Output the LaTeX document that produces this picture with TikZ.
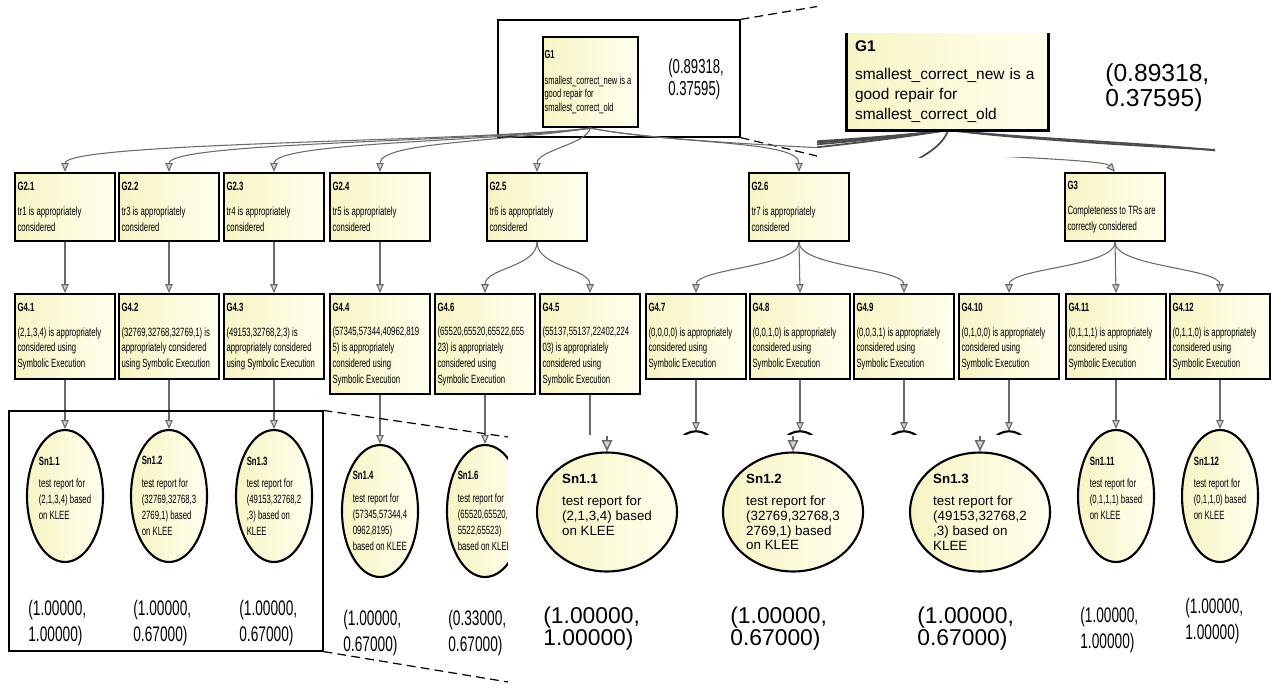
\documentclass[tikz,border=0pt]{standalone}
\usepackage{fontspec}
\setmainfont{Liberation Sans}
\newfontfamily\narrowsf[FakeStretch=0.65]{Liberation Sans}
\usetikzlibrary{arrows.meta, shapes.geometric}
\definecolor{gsnyellow}{RGB}{247,245,196}
\definecolor{gsnlight}{RGB}{255,255,238}
\definecolor{linkgray}{RGB}{105,105,105}
\newcommand{\gsnfont}{\narrowsf\fontsize{6.8}{9}\selectfont}
\newcommand{\gonefont}{\narrowsf\fontsize{6.6}{7.7}\selectfont}
\newcommand{\valfont}{\narrowsf\fontsize{12}{15.3}\selectfont}
\newcommand{\narrowspace}{\spaceskip=1.25pt plus 0.4pt minus 0.2pt\relax}

\begin{document}
\begin{tikzpicture}[x=0.02cm, y=-0.02cm,
  goal/.style={draw=black, line width=1.3pt, left color=gsnyellow, right color=gsnlight,
    text width=1.9cm, inner xsep=0.05cm, inner ysep=0pt, align=left, font=\gsnfont,
    execute at begin node=\narrowspace},
  sol/.style={ellipse, draw=black, line width=1.2pt, left color=gsnyellow, right color=gsnlight,
    minimum width=1.52cm, minimum height=2.64cm, inner xsep=-3pt, inner ysep=0pt, align=left, font=\gsnfont,
    execute at begin node=\narrowspace},
  solbig/.style={ellipse, draw=black, line width=1.2pt, left color=gsnyellow, right color=gsnlight,
    minimum width=2.8cm, minimum height=2.38cm, inner sep=0pt, align=left,
    font=\fontsize{7.6}{8.5}\selectfont},
  link/.style={draw=linkgray, line width=0.6pt, -{Triangle[length=5pt, width=4.2pt, fill=gray!35]}},
  plain/.style={draw=linkgray, line width=0.6pt},
  val/.style={anchor=west, inner sep=0pt, align=left, font=\valfont},
  valbig/.style={anchor=west, inner sep=0pt, align=left, font=\fontsize{13}{13}\selectfont},
  zoomframe/.style={draw=black, line width=0.7pt, inner sep=0pt},
  zoomline/.style={draw=black, line width=0.7pt, dash pattern=on 5pt off 3pt}]
  \useasboundingbox (0,0) rectangle (1273,687);

  % zoom frame round G1
  \node[zoomframe, minimum width=4.84cm, minimum height=2.34cm] (frameA) at (619,78.5) {};
  \coordinate (zA1) at (820,6);
  \coordinate (zA2) at (817,156);
  \draw[zoomline] (frameA.north east) -- (zA1);
  \draw[zoomline] (frameA.south east) -- (zA2);

  % top goal
  \node[goal, minimum height=1.8cm, text width=1.84cm, inner xsep=0.03cm, font=\gonefont] (g1) at (590.5,82)
    {\textbf{G1}\\[7pt]smallest\_correct\_new is a\\good repair for\\smallest\_correct\_old};
  \node[val, font=\narrowsf\fontsize{11.5}{12.5}\selectfont] (v1) at (668,79) {(0.89318,\\0.37595)};

  % G2 / G3 row
  \node[goal, minimum height=1.36cm] (g21) at (65,207) {\textbf{G2.1}\\[5pt]tr1 is appropriately\\considered};
  \node[goal, minimum height=1.36cm] (g22) at (169,207) {\textbf{G2.2}\\[5pt]tr3 is appropriately\\considered};
  \node[goal, minimum height=1.36cm] (g23) at (274,207) {\textbf{G2.3}\\[5pt]tr4 is appropriately\\considered};
  \node[goal, minimum height=1.36cm] (g24) at (380,207) {\textbf{G2.4}\\[5pt]tr5 is appropriately\\considered};
  \node[goal, minimum height=1.36cm] (g25) at (537,207) {\textbf{G2.5}\\[5pt]tr6 is appropriately\\considered};
  \node[goal, minimum height=1.36cm] (g26) at (799,207) {\textbf{G2.6}\\[5pt]tr7 is appropriately\\considered};
  \node[goal, minimum height=1.36cm] (g3) at (1115,207) {\textbf{G3}\\[5pt]Completeness to TRs are\\correctly considered};

  % G4 row
  \node[goal, anchor=north, minimum height=1.7cm] (g41) at (65,293)
    {\textbf{G4.1}\\[5pt](2,1,3,4) is appropriately\\considered using\\Symbolic Execution};
  \node[goal, anchor=north, minimum height=1.7cm] (g42) at (169,293)
    {\textbf{G4.2}\\[5pt](32769,32768,32769,1) is\\appropriately considered\\using Symbolic Execution};
  \node[goal, anchor=north, minimum height=1.7cm] (g43) at (274,293)
    {\textbf{G4.3}\\[5pt](49153,32768,2,3) is\\appropriately considered\\using Symbolic Execution};
  \node[goal, anchor=north, minimum height=2cm] (g44) at (380,293)
    {\textbf{G4.4}\\[5pt](57345,57344,40962,819\\5) is appropriately\\considered using\\Symbolic Execution};
  \node[goal, anchor=north, minimum height=2cm] (g46) at (485,293)
    {\textbf{G4.6}\\[5pt](65520,65520,65522,655\\23) is appropriately\\considered using\\Symbolic Execution};
  \node[goal, anchor=north, minimum height=2cm] (g45) at (590,293)
    {\textbf{G4.5}\\[5pt](55137,55137,22402,224\\03) is appropriately\\considered using\\Symbolic Execution};
  \node[goal, anchor=north, minimum height=1.7cm] (g47) at (696,293)
    {\textbf{G4.7}\\[5pt](0,0,0,0) is appropriately\\considered using\\Symbolic Execution};
  \node[goal, anchor=north, minimum height=1.7cm] (g48) at (800,293)
    {\textbf{G4.8}\\[5pt](0,0,1,0) is appropriately\\considered using\\Symbolic Execution};
  \node[goal, anchor=north, minimum height=1.7cm] (g49) at (904,293)
    {\textbf{G4.9}\\[5pt](0,0,3,1) is appropriately\\considered using\\Symbolic Execution};
  \node[goal, anchor=north, minimum height=1.7cm] (g410) at (1009,293)
    {\textbf{G4.10}\\[5pt](0,1,0,0) is appropriately\\considered using\\Symbolic Execution};
  \node[goal, anchor=north, minimum height=1.7cm] (g411) at (1116,293)
    {\textbf{G4.11}\\[5pt](0,1,1,1) is appropriately\\considered using\\Symbolic Execution};
  \node[goal, anchor=north, minimum height=1.7cm] (g412) at (1220,293)
    {\textbf{G4.12}\\[5pt](0,1,1,0) is appropriately\\considered using\\Symbolic Execution};

  % solutions
  \node[sol] (sn11) at (65,496) {\textbf{Sn1.1}\\[4pt]test report for\\(2,1,3,4) based\\on KLEE\\~};
  \node[sol] (sn12) at (169,496) {\textbf{Sn1.2}\\[4pt]test report for\\(32769,32768,3\\2769,1) based\\on KLEE};
  \node[sol] (sn13) at (274,496) {\textbf{Sn1.3}\\[4pt]test report for\\(49153,32768,2\\,3) based on\\KLEE};
  \node[sol] (sn14) at (380,511) {\textbf{Sn1.4}\\[4pt]test report for\\(57345,57344,4\\0962,8195)\\based on KLEE};
  \node[sol] (sn16) at (485,511) {\textbf{Sn1.6}\\[4pt]test report for\\(65520,65520,6\\5522,65523)\\based on KLEE};
  \node[sol] (sn111) at (1116,496) {\textbf{Sn1.11}\\[4pt]test report for\\(0,1,1,1) based\\on KLEE\\~};
  \node[sol] (sn112) at (1220,496) {\textbf{Sn1.12}\\[4pt]test report for\\(0,1,1,0) based\\on KLEE\\~};

  % values
  \node[val] (v11) at (28,623) {(1.00000,\\1.00000)};
  \node[val] (v12) at (133,623) {(1.00000,\\0.67000)};
  \node[val] (v13) at (239,623) {(1.00000,\\0.67000)};
  \node[val] (v14) at (343,633) {(1.00000,\\0.67000)};
  \node[val] (v16) at (448,633) {(0.33000,\\0.67000)};
  \node[val] (v111) at (1080,630) {(1.00000,\\1.00000)};
  \node[val] (v112) at (1185,621) {(1.00000,\\1.00000)};

  % G1 to G2 / G3
  \draw[link] (g1.south) .. controls (470,142) and (65,142) .. (g21.north);
  \draw[link] (g1.south) .. controls (480,142) and (169,142) .. (g22.north);
  \draw[link] (g1.south) .. controls (490,142) and (274,142) .. (g23.north);
  \draw[link] (g1.south) .. controls (500,142) and (380,142) .. (g24.north);
  \draw[link] (g1.south) .. controls (585,145) and (537,150) .. (g25.north);
  \draw[link] (g1.south) .. controls (680,145) and (799,140) .. (g26.north);
  \draw[link] (g1.south) .. controls (700,150) and (1100,155) .. (g3.north);

  % G2 / G3 to G4
  \draw[link] (g21.south) -- (g41.north);
  \draw[link] (g22.south) -- (g42.north);
  \draw[link] (g23.south) -- (g43.north);
  \draw[link] (g24.south) -- (g44.north);
  \draw[link] (g25.south) .. controls +(0,25) and +(0,-25) .. (g46.north);
  \draw[link] (g25.south) .. controls +(0,25) and +(0,-25) .. (g45.north);
  \draw[link] (g26.south) .. controls +(0,25) and +(0,-25) .. (g47.north);
  \draw[link] (g26.south) -- (g48.north);
  \draw[link] (g26.south) .. controls +(0,25) and +(0,-25) .. (g49.north);
  \draw[link] (g3.south) .. controls +(0,25) and +(0,-25) .. (g410.north);
  \draw[link] (g3.south) -- (g411.north);
  \draw[link] (g3.south) .. controls +(0,25) and +(0,-25) .. (g412.north);

  % G4 to Sn
  \draw[link] (g41.south) -- (sn11.north);
  \draw[link] (g42.south) -- (sn12.north);
  \draw[link] (g43.south) -- (sn13.north);
  \draw[link] (g44.south) -- (sn14.north);
  \draw[link] (g46.south) -- (sn16.north);
  \draw[link] (g411.south) -- (sn111.north);
  \draw[link] (g412.south) -- (sn112.north);
  \coordinate (top5) at (590,440);
  \draw[plain] (g45.south) -- (top5);
  \foreach \x/\n in {696/7, 800/8, 904/9, 1009/10} {
    \coordinate (top\n) at (\x,431);
    \draw[link] (g4\n.south) -- (top\n);
    \draw[line width=1.2pt] (\x-18,441) .. controls (\x-8,428) and (\x+8,428) .. (\x+18,441);
  }

  % zoomed view of G1
  \fill[white] (817,0) rectangle (1215,157);
  \begin{scope}
    \clip (817,0) rectangle (1215,157);
    \draw[black!70, line width=1pt] (948,130) .. controls (696,161.5) and (-154.5,161.5) .. (-154.5,224.5);
    \draw[black!70, line width=1pt] (948,130) .. controls (717,161.5) and (64,161.5) .. (64,224.5);
    \draw[black!70, line width=1pt] (948,130) .. controls (738,161.5) and (284,161.5) .. (284,224.5);
    \draw[black!70, line width=1pt] (948,130) .. controls (759,161.5) and (507,161.5) .. (507,224.5);
    \draw[black!70, line width=1pt] (948,130) .. controls (937,168) and (837,178) .. (837,224.5);
    \draw[black!70, line width=1pt] (948,130) .. controls (1137,150) and (1387,140) .. (1387,224.5);
    \draw[black!70, line width=1pt] (948,130) .. controls (1179,160) and (2019,170) .. (2050,224.5);
  \end{scope}
  \node[left color=gsnyellow, right color=gsnlight, minimum width=4.02cm, minimum height=1.94cm,
    text width=3.7cm, inner xsep=0.16cm, inner ysep=0pt, align=left,
    font=\fontsize{8.8}{11.3}\selectfont] (g1big) at (947.5,81.5)
    {\textbf{G1}\\[5pt]smallest\_correct\_new is a\\good repair for\\smallest\_correct\_old};
  \draw[line width=1.6pt] (g1big.north west) -- (g1big.south west) -- (g1big.south east) -- (g1big.north east);
  \node[anchor=west, inner sep=0pt, align=left, font=\fontsize{14}{14.2}\selectfont] (v1big) at (1105,88)
    {(0.89318,\\0.37595)};

  % zoom frame round Sn1.1 to Sn1.3
  \node[zoomframe, minimum width=6.28cm, minimum height=4.8cm] (frameB) at (166,531) {};
  \coordinate (zB1) at (508,437);
  \coordinate (zB2) at (508,682);
  \draw[zoomline] (frameB.north east) -- (zB1);
  \draw[zoomline] (frameB.south east) -- (zB2);

  % zoomed view of Sn1.1 to Sn1.3
  \fill[white] (508,435) rectangle (1063,687);
  \node[solbig] (bsn11) at (607,512) {\textbf{Sn1.1}\\[4pt]test report for\\(2,1,3,4) based\\on KLEE\\~};
  \node[solbig] (bsn12) at (793,512) {\textbf{Sn1.2}\\[4pt]test report for\\(32769,32768,3\\2769,1) based\\on KLEE};
  \node[solbig] (bsn13) at (980,512) {\textbf{Sn1.3}\\[4pt]test report for\\(49153,32768,2\\,3) based on\\KLEE};
  \foreach \x/\n in {607/1, 793/2, 980/3} {
    \coordinate (bin\n) at (\x,436);
    \draw[draw=black!60, line width=0.8pt, -{Triangle[length=6.5pt, width=6pt, fill=gray!35]}] (bin\n) -- (bsn1\n.north);
  }
  \node[valbig] (bv11) at (543,628.5) {(1.00000,\\1.00000)};
  \node[valbig] (bv12) at (730,628.5) {(1.00000,\\0.67000)};
  \node[valbig] (bv13) at (917,628.5) {(1.00000,\\0.67000)};
\end{tikzpicture}
\end{document}
